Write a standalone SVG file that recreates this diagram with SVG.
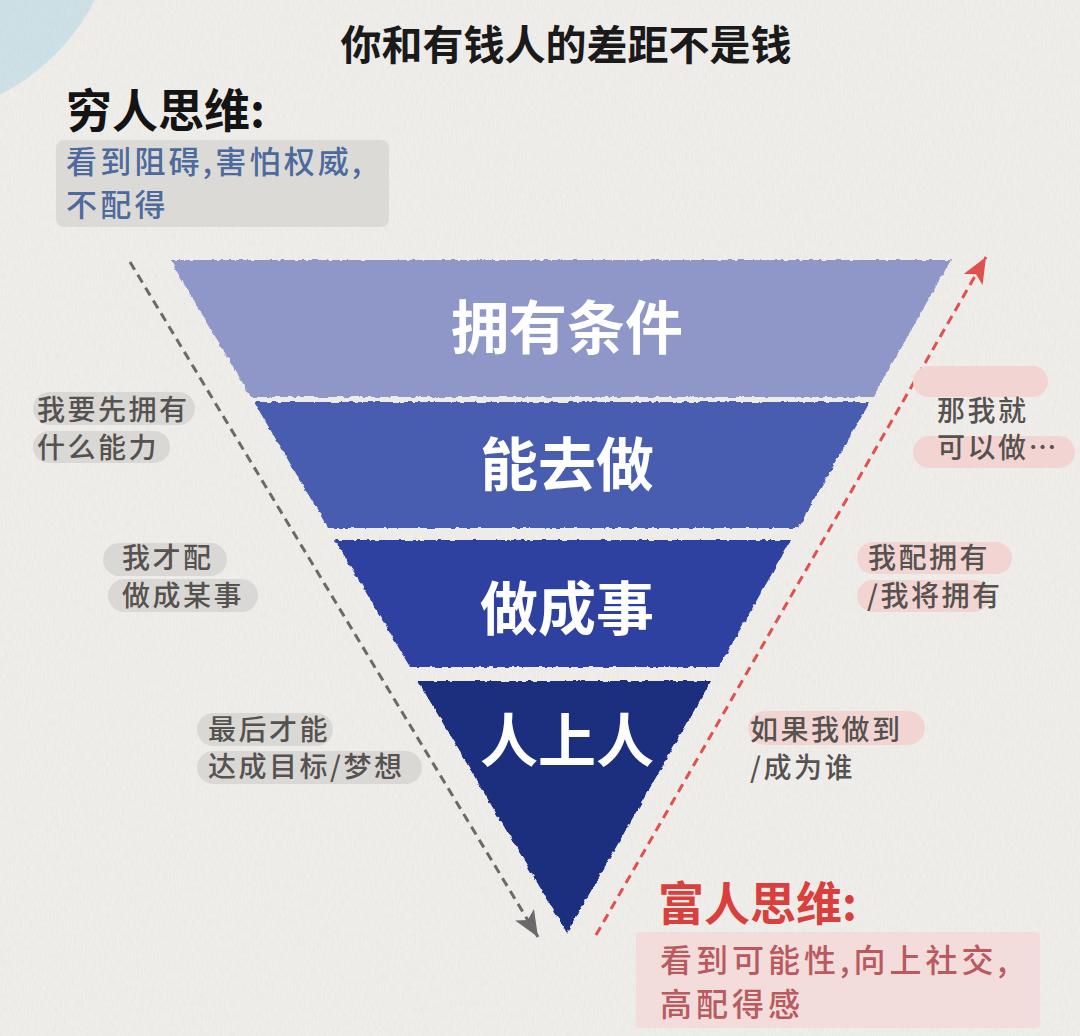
<svg xmlns="http://www.w3.org/2000/svg" width="1080" height="1036" viewBox="0 0 1080 1036">
<defs>
<style>
text { font-family: "Noto Sans CJK SC", "Noto Sans", sans-serif; }
.title { font-size:41px; font-weight:700; fill:#1a1a1a; }
.head { font-size:46px; font-weight:700; }
.band { font-size:58px; font-weight:700; fill:#ffffff; text-anchor:middle; }
.lbl { font-size:28px; font-weight:500; fill:#55524f; letter-spacing:2.5px; }
.gpill { fill:#dad8d5; }
.ppill { fill:#f2d5d3; }
.conn { fill:none; stroke-width:3; stroke-dasharray:9 6; }
</style>
<marker id="ahGray" markerUnits="userSpaceOnUse" markerWidth="26" markerHeight="22" refX="26" refY="11" orient="auto" viewBox="0 0 26 22"><path d="M0,0 L26,11 L0,22 L6,11 Z" fill="#6a6a6a"/></marker>
<marker id="ahRed" markerUnits="userSpaceOnUse" markerWidth="26" markerHeight="22" refX="26" refY="11" orient="auto" viewBox="0 0 26 22"><path d="M0,0 L26,11 L0,22 L6,11 Z" fill="#e0514e"/></marker>
<filter id="paper" x="0" y="0" width="100%" height="100%">
<feTurbulence type="fractalNoise" baseFrequency="0.9 0.15" numOctaves="2" seed="3"/>
<feColorMatrix type="matrix" values="0 0 0 0 0.5  0 0 0 0 0.49  0 0 0 0 0.47  0.22 0 0 0 -0.07"/>
</filter>
<filter id="rough" x="-5%" y="-5%" width="110%" height="110%">
<feTurbulence type="fractalNoise" baseFrequency="0.18" numOctaves="2" seed="7" result="n"/>
<feDisplacementMap in="SourceGraphic" in2="n" scale="4" xChannelSelector="R" yChannelSelector="G"/>
</filter>
</defs>

<g id="background">
<rect x="0" y="0" width="1080" height="1036" fill="#f0eeeb"/>
<circle cx="-100" cy="-100" r="219" fill="#cde1e7"/>
<rect x="0" y="0" width="1080" height="1036" filter="url(#paper)"/>
</g>

<g id="title">
<text class="title" x="566" y="60" text-anchor="middle">你和有钱人的差距不是钱</text>
</g>

<g id="poor-mindset">
<text class="head" x="66" y="127" fill="#141414">穷人思维:</text>
<rect x="56" y="140" width="333" height="87" rx="8" fill="#dcdad7"/>
<text font-size="31" font-weight="500" fill="#4c6b9c" letter-spacing="3.2"><tspan x="66" y="173">看到阻碍,害怕权威,</tspan><tspan x="66" y="216">不配得</tspan></text>
</g>

<g id="funnel" filter="url(#rough)">
<g id="band1">
<polygon points="170,260 951,260 873,397 251,397" fill="#8e97c8"/>
</g>
<g id="band2">
<polygon points="254,402 870,402 798,528 328,528" fill="#4a5db0"/>
</g>
<g id="band3">
<polygon points="335,540 791,540 719,667 410,667" fill="#2e41a0"/>
</g>
<g id="band4">
<polygon points="418,681 711,681 567,933" fill="#1d2d7e"/>
</g>
</g>
<g id="band-labels">
<text class="band" x="567" y="349">拥有条件</text>
<text class="band" x="567" y="486">能去做</text>
<text class="band" x="567" y="630">做成事</text>
<text class="band" x="567" y="762">人上人</text>
</g>

<g id="connectors">
<line class="conn" x1="130" y1="262" x2="538" y2="937" stroke="#6a6a6a" marker-end="url(#ahGray)"/>
<line class="conn" x1="596" y1="935" x2="986" y2="257" stroke="#e0514e" marker-end="url(#ahRed)"/>
</g>

<g id="left-note-1">
<rect class="gpill" x="33" y="392" width="162" height="33" rx="16.5"/>
<rect class="gpill" x="33" y="431" width="137" height="32" rx="16"/>
<text class="lbl" x="37" y="420">我要先拥有</text>
<text class="lbl" x="37" y="458">什么能力</text>
</g>
<g id="left-note-2">
<rect class="gpill" x="103" y="543" width="124" height="33" rx="16.5"/>
<rect class="gpill" x="108" y="579" width="150" height="33" rx="16.5"/>
<text class="lbl" x="122" y="568">我才配</text>
<text class="lbl" x="122" y="606">做成某事</text>
</g>
<g id="left-note-3">
<rect class="gpill" x="197" y="713" width="136" height="33" rx="16.5"/>
<rect class="gpill" x="197" y="751" width="225" height="33" rx="16.5"/>
<text class="lbl" x="208" y="740">最后才能</text>
<text class="lbl" x="208" y="777">达成目标/梦想</text>
</g>

<g id="right-note-1">
<rect class="ppill" x="913" y="366" width="135" height="31" rx="15.5"/>
<rect class="ppill" x="913" y="436" width="162" height="32" rx="16"/>
<text class="lbl" x="937" y="421">那我就</text>
<text class="lbl" x="937" y="458">可以做…</text>
</g>
<g id="right-note-2">
<rect class="ppill" x="857" y="542" width="155" height="32" rx="16"/>
<rect class="ppill" x="857" y="580" width="133" height="32" rx="16"/>
<text class="lbl" x="868" y="568">我配拥有</text>
<text class="lbl" x="867" y="606">/我将拥有</text>
</g>
<g id="right-note-3">
<rect class="ppill" x="748" y="711" width="177" height="34" rx="17"/>
<text class="lbl" x="750" y="740">如果我做到</text>
<text class="lbl" x="750" y="778">/成为谁</text>
</g>

<g id="rich-mindset">
<text class="head" x="658" y="920" fill="#d93f3d">富人思维:</text>
<rect x="636" y="932" width="404" height="96" rx="4" fill="#f3d9d8" opacity="0.85"/>
<text font-size="32" font-weight="500" fill="#b95a5f" letter-spacing="4"><tspan x="660" y="972">看到可能性,向上社交,</tspan><tspan x="660" y="1016">高配得感</tspan></text>
</g>
</svg>
